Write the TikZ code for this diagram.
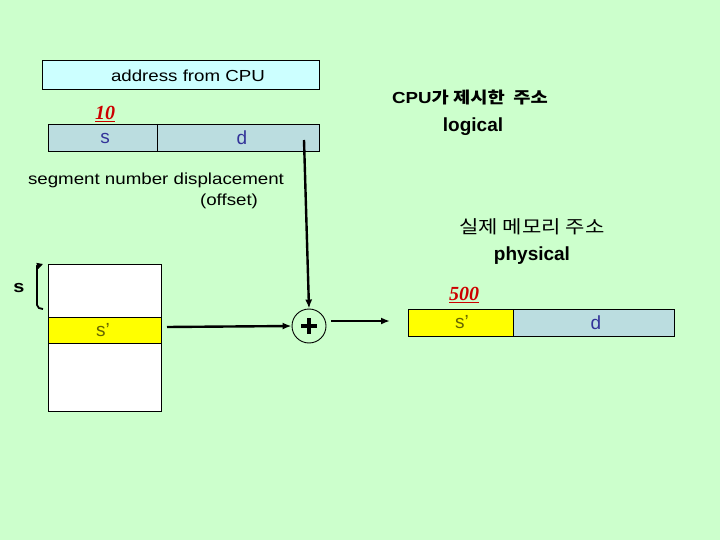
\documentclass[tikz,border=0pt]{standalone}
\usepackage{fontspec}
\setmainfont{Liberation Sans}
\newfontfamily\wide[FakeStretch=1.17]{Liberation Sans}
\newfontfamily\kr[FakeStretch=1.17]{Noto Sans CJK KR}
\newfontfamily\tms{Liberation Serif}
\usetikzlibrary{arrows.meta}
\definecolor{bg}{RGB}{204,255,204}
\definecolor{cyanbox}{RGB}{204,255,255}
\definecolor{bluebox}{RGB}{187,221,224}
\definecolor{ylw}{RGB}{255,255,0}
\definecolor{bluetxt}{RGB}{51,51,153}
\definecolor{olivetxt}{RGB}{102,102,0}
\definecolor{redtxt}{RGB}{204,0,0}
\tikzset{
  box/.style={draw=black, line width=0.9pt},
  lbl/.style={inner sep=0pt, font=\fontsize{16}{18}\selectfont\wide},
  boxtxt/.style={inner sep=0pt, font=\fontsize{19}{21}\selectfont},
  bold/.style={inner sep=0pt, font=\fontsize{19}{21}\selectfont\bfseries},
  num/.style={inner sep=0pt, text=redtxt, font=\fontsize{20}{22}\selectfont\tms\bfseries\itshape},
  flowarrow/.style={line width=2.4pt, -{Latex[length=9pt,width=7pt]}},
}
\begin{document}
\begin{tikzpicture}[x=1pt,y=-1pt]
\fill[bg] (0,0) rectangle (720,540);
\useasboundingbox (0,0) rectangle (720,540);
% address from CPU
\filldraw[box, fill=cyanbox] (42,60) rectangle (319,89);
\node[lbl] (addr) at (188,76) {address from CPU};
% s | d
\filldraw[box, fill=bluebox] (48,124) rectangle (319,151);
\draw[box] (157,124) -- (157,151);
\node[boxtxt, text=bluetxt] (ls) at (105,138) {s};
\node[boxtxt, text=bluetxt] (ld) at (242,138) {d};
\node[num] (n10) at (105,114) {\underline{10}};
\coordinate (dstart) at (304,140);
% labels
\node[lbl] (segnum) at (156,180) {segment number displacement};
\node[lbl] (offset) at (229,201) {(offset)};
\node[inner sep=0pt, font=\fontsize{16}{18}\selectfont\bfseries] (cpuaddr) at (470,98) {{\wide CPU}{\kr 가 제시한~~주소}};
\node[bold] (logical) at (473,127) {logical};
\node[inner sep=0pt, font=\fontsize{18}{20}\selectfont\kr] (realaddr) at (532,227) {실제 메모리 주소};
\node[bold] (physical) at (532,256) {physical};
% segment table
\filldraw[box, fill=white] (48,264) rectangle (161,411);
\filldraw[box, fill=ylw] (48,317) rectangle (161,343);
\node[boxtxt, text=olivetxt] (tsp) at (103,330) {s'};
\coordinate (tright) at (167,327);
\node[inner sep=0pt, font=\fontsize{17}{19}\selectfont\wide\bfseries] (sl) at (19,288) {s};
\draw[line width=1.8pt, {Triangle[length=6pt,width=6pt]}-] (43,264) -- (37,266) -- (37,305) to[out=-90,in=180] (43,309);
% adder
\node[draw=black, circle, minimum size=34pt, inner sep=0pt, line width=0.9pt] (plus) at (309,326) {};
\draw[line width=3.2pt] (301,326) -- (317,326) (309,318) -- (309,334);
% physical address
\filldraw[box, fill=ylw] (408,309) rectangle (513,336);
\filldraw[box, fill=bluebox] (513,309) rectangle (674,336);
\node[boxtxt, text=olivetxt] (psp) at (462,322) {s'};
\node[boxtxt, text=bluetxt] (pd) at (596,323) {d};
\node[num] (n500) at (464,295) {\underline{500}};
\coordinate (pleft) at (390,321);
\coordinate (pstart) at (331,321);
% connectors
\draw[flowarrow] (dstart) -- (plus.north);
\draw[flowarrow] (tright) -- (plus.west);
\draw[flowarrow] (pstart) -- (pleft);
\end{tikzpicture}
\end{document}
